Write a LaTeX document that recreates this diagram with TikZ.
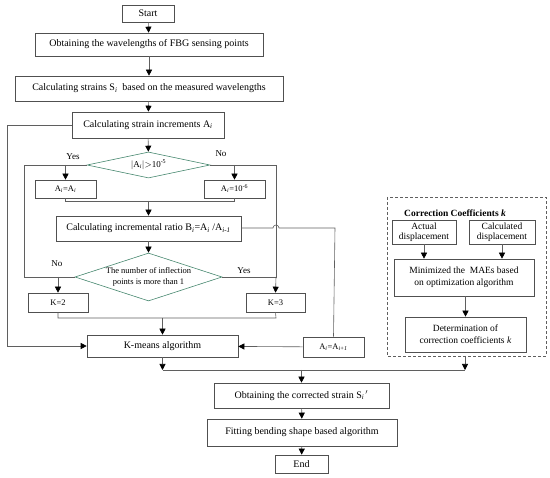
\documentclass[tikz,border=0pt]{standalone}
\usepackage{fontspec}
\setmainfont{Liberation Serif}
\usetikzlibrary{shapes.geometric,arrows.meta}
\definecolor{boxc}{RGB}{80,80,80}
\definecolor{linec}{RGB}{95,95,95}
\definecolor{diac}{RGB}{70,135,110}
\tikzset{
  box/.style={draw=boxc, line width=0.6pt, rectangle, inner sep=0pt, font=\fontsize{10}{12}\selectfont},
  sbox/.style={box, font=\fontsize{8.5}{10}\selectfont},
  dia/.style={draw=diac, line width=0.6pt, diamond, inner sep=0pt},
  conn/.style={draw=linec, line width=0.6pt},
  arr/.style={conn, -{Triangle[length=6pt,width=6pt,color=black]}},
  lab/.style={font=\fontsize{9}{11}\selectfont, inner sep=0pt},
}
\begin{document}
\begin{tikzpicture}[x=1pt,y=-1pt]
\useasboundingbox (0,0) rectangle (550,478);
% main column
\node[box, minimum width=52pt, minimum height=17pt] (start) at (148,13.5) {Start};
\node[box, minimum width=228pt, minimum height=23pt] (obt) at (149,44.5) {Obtaining the wavelengths of FBG sensing points};
\node[box, minimum width=268pt, minimum height=25pt] (strains) at (149,88.5) {Calculating strains S\textsubscript{\itshape i} \ based on the measured wavelengths};
\node[box, minimum width=152pt, minimum height=26pt] (incr) at (148,125) {Calculating strain increments A\textsubscript{\itshape i}};
\node[dia, minimum width=123pt, minimum height=26pt, aspect=4.7, font=\fontsize{9}{11}\selectfont] (d1) at (148.5,165) {$|$A\textsubscript{\itshape i}$|$$>$10\textsuperscript{-5}};
\node[sbox, minimum width=61pt, minimum height=18pt] (aa) at (65.5,189) {A\textsubscript{\itshape i}=A\textsubscript{\itshape i}};
\node[sbox, minimum width=61pt, minimum height=18pt] (a6) at (234.5,189) {A\textsubscript{\itshape i}=10\textsuperscript{-6}};
\node[box, minimum width=185pt, minimum height=25pt] (ratio) at (148.5,228.5) {Calculating incremental ratio B\textsubscript{\itshape i}=A\textsubscript{\itshape i} /A\textsubscript{\itshape i-1}};
\node[dia, minimum width=147pt, minimum height=48pt, aspect=3.06, inner sep=-8pt, align=center, font=\fontsize{8.5}{11}\selectfont] (d2) at (148.5,277) {The number of inflection\\points is more than 1};
\node[sbox, minimum width=60pt, minimum height=19pt] (k2) at (58,302.5) {K=2};
\node[sbox, minimum width=59pt, minimum height=19pt] (k3) at (275.5,302.5) {K=3};
\node[box, minimum width=151pt, minimum height=22pt] (km) at (162.5,346) {K-means algorithm};
\node[sbox, minimum width=61pt, minimum height=20pt] (a1) at (333.5,347) {A\textsubscript{\itshape i}=A\textsubscript{\itshape i+1}};
\node[box, minimum width=175pt, minimum height=25pt] (corr) at (301.5,395.5) {Obtaining the corrected strain S\textsubscript{\itshape i}\textsuperscript{\,$\prime$}};
\node[box, minimum width=190pt, minimum height=27pt] (fit) at (302,432.5) {Fitting bending shape based algorithm};
\node[box, minimum width=53pt, minimum height=18pt] (end) at (301.5,464) {End};
% correction coefficient panel
\draw[draw=linec, line width=0.6pt, dash pattern=on 3pt off 2pt] (387,197) rectangle (546,356);
\coordinate (panelbot) at (465,356);
\node[font=\fontsize{9.5}{11}\selectfont\bfseries, inner sep=0pt] (title) at (455,213) {Correction Coefficients \textit{k}};
\node[box, minimum width=64pt, minimum height=24pt, align=center, font=\fontsize{9.5}{10.5}\selectfont] (act) at (424,232) {Actual\\displacement};
\node[box, minimum width=66pt, minimum height=24pt, align=center, font=\fontsize{9.5}{10.5}\selectfont] (calc) at (502,232) {Calculated\\displacement};
\node[box, minimum width=140pt, minimum height=37pt, align=center, font=\fontsize{9.5}{12}\selectfont] (mae) at (464,277.5) {Minimized the \ MAEs based\\on optimization algorithm};
\node[box, minimum width=121pt, minimum height=35pt, align=center, font=\fontsize{9.5}{12}\selectfont] (det) at (465.5,334.5) {Determination of\\correction coefficients \textit{k}};
% labels
\node[lab] (yes1) at (73,157) {Yes};
\node[lab] (no1) at (221,154) {No};
\node[lab] (no2) at (57,264) {No};
\node[lab] (yes2) at (244,271) {Yes};
% helper coordinates
\coordinate (l1) at (24,165);
\coordinate (r1) at (276,165);
\coordinate (l2) at (24,277);
\coordinate (r2) at (276,277);
\coordinate (aaj) at (65.5,201);
\coordinate (a6j) at (234.5,201);
\coordinate (mj) at (148.5,201);
\coordinate (kj2) at (58,318);
\coordinate (kj3) at (276,318);
\coordinate (kmj) at (162.5,318);
\coordinate (ol) at (7,125);
\coordinate (olb) at (7,346);
\coordinate (bx) at (273,228);
\coordinate (ar) at (335,228);
\coordinate (hl) at (162.5,370);
\coordinate (hr) at (465,370);
\coordinate (hm) at (301.5,370);
% connectors main
\draw[arr] (start) -- (obt);
\draw[arr] (obt) -- (strains);
\draw[arr] (strains) -- (incr);
\draw[arr] (incr) -- (d1);
\draw[conn] (d1.west) -- (l1) -- (l2) -- (d2.west);
\draw[conn] (d1.east) -- (r1) -- (r2) -- (d2.east);
\draw[arr] (aa.north |- d1.west) -- (aa.north);
\draw[arr] (a6.north |- d1.east) -- (a6.north);
\draw[conn] (aa.south) -- (aaj) -- (a6j) -- (a6.south);
\draw[arr] (mj) -- (ratio);
\draw[arr] (ratio) -- (d2);
\draw[arr] (k2.north |- d2.west) -- (k2.north);
\draw[arr] (r2) -- (k3.north);
\draw[conn] (k2.south) -- (kj2) -- (kj3) -- (k3.south);
\draw[arr] (kmj) -- (km.north);
\draw[conn] (incr.west) -- (ol) -- (olb);
\draw[arr] (olb) -- (km.west);
\draw[conn] (ratio.east |- bx) -- (bx) arc[start angle=180, end angle=0, radius=3pt] -- (ar) -- (a1.north);
\draw[arr] (a1) -- (km);
\draw[arr] (km.south) -- (hl);
\draw[arr] (panelbot) -- (hr);
\draw[conn] (hl) -- (hr);
\draw[arr] (hm) -- (corr);
\draw[arr] (corr) -- (fit);
\draw[arr] (fit) -- (end);
% panel connectors
\draw[arr] (act.south) -- (act.south |- mae.north);
\draw[arr] (calc.south) -- (calc.south |- mae.north);
\draw[arr] (mae.south -| det.north) -- (det.north);
\end{tikzpicture}
\end{document}
